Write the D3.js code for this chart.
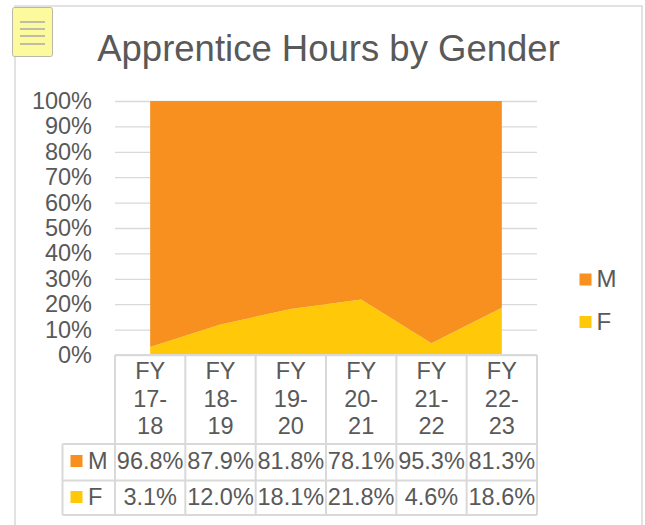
<!DOCTYPE html>
<html>
<head>
<meta charset="utf-8">
<script src="https://cdn.jsdelivr.net/npm/d3@7"></script>
<style>
body { margin: 0; background: #fff; }
text { font-family: "Liberation Sans", Arial, sans-serif; fill: #595959; }
</style>
</head>
<body>
<script>
// data
var categories = ["FY 17-18", "FY 18-19", "FY 19-20", "FY 20-21", "FY 21-22", "FY 22-23"];
var seriesM = [96.8, 87.9, 81.8, 78.1, 95.3, 81.3];
var seriesF = [3.1, 12.0, 18.1, 21.8, 4.6, 18.6];
var yTicks = [0, 0.1, 0.2, 0.3, 0.4, 0.5, 0.6, 0.7, 0.8, 0.9, 1];

var colorM = "#f7901e";
var colorF = "#ffc90a";
var lineCol = "#d9d9d9";

var svgW = 645, svgH = 525;
// plot box (note: "top" is taken by window.top)
var pLeft = 115, pRight = 537, pTop = 101, pBottom = 355;

var svg = d3.select("body").append("svg")
    .attr("width", svgW)
    .attr("height", svgH);

// chart border
svg.append("rect")
    .attr("x", 15).attr("y", 6)
    .attr("width", 627).attr("height", 540)
    .attr("fill", "none")
    .attr("stroke", lineCol)
    .attr("stroke-width", 1.5);

// little note icon top left
var icon = svg.append("g");
icon.append("rect")
    .attr("x", 12.5).attr("y", 7.5)
    .attr("width", 40).attr("height", 49)
    .attr("rx", 2)
    .attr("fill", "#fdfa9e")
    .attr("stroke", "#b8b8a8");
[22, 29, 36, 44].forEach(function(y) {
    icon.append("line")
        .attr("x1", 20).attr("x2", 45)
        .attr("y1", y).attr("y2", y)
        .attr("stroke", "#a8a8a8")
        .attr("stroke-width", 1.5);
});

// title
svg.append("text")
    .attr("x", 328.5).attr("y", 61)
    .attr("text-anchor", "middle")
    .style("font-size", "36.5px")
    .text("Apprentice Hours by Gender");

// scales
var xScale = d3.scaleBand().domain(categories).range([pLeft, pRight]).paddingInner(0).paddingOuter(0);
var yScale = d3.scaleLinear().domain([0, 1]).range([pBottom, pTop]);
var bw = xScale.bandwidth();

// y axis + gridlines
var yAxis = d3.axisLeft(yScale)
    .tickValues(yTicks)
    .tickSize(-(pRight - pLeft))
    .tickPadding(23)
    .tickFormat(d3.format(".0%"));

var yAxisGroup = svg.append("g")
    .attr("transform", "translate(" + pLeft + ",0)")
    .call(yAxis);
yAxisGroup.select(".domain").remove();
yAxisGroup.selectAll(".tick line").attr("stroke", lineCol).attr("stroke-width", 1.3);
yAxisGroup.selectAll(".tick text")
    .style("font-size", "23.5px")
    .attr("fill", "#595959")
    .attr("font-family", "Liberation Sans, Arial, sans-serif");

// stacked 100% area
var rows = categories.map(function(c, i) {
    return {cat: c, F: seriesF[i], M: seriesM[i]};
});
var stack = d3.stack().keys(["F", "M"]).offset(d3.stackOffsetExpand);
var layers = stack(rows);

var area = d3.area()
    .x(function(d) { return xScale(d.data.cat) + bw / 2; })
    .y0(function(d) { return yScale(d[0]); })
    .y1(function(d) { return yScale(d[1]); });

svg.selectAll(".layer")
    .data(layers)
    .enter()
    .append("path")
    .attr("class", "layer")
    .attr("d", area)
    .attr("fill", function(d) { return d.key == "M" ? colorM : colorF; });

// data table under the chart
var tLeft = 62.5, rowM = 444, rowF = 480.5, tBottom = 515;
var table = svg.append("g")
    .attr("stroke", lineCol)
    .attr("stroke-width", 2);

table.append("line").attr("x1", pLeft).attr("x2", pRight).attr("y1", pBottom).attr("y2", pBottom);
[rowM, rowF, tBottom].forEach(function(y) {
    table.append("line").attr("x1", tLeft).attr("x2", pRight).attr("y1", y).attr("y2", y);
});
table.append("line").attr("x1", tLeft).attr("x2", tLeft).attr("y1", rowM).attr("y2", tBottom);
categories.forEach(function(c, i) {
    var x = xScale(c);
    table.append("line").attr("x1", x).attr("x2", x).attr("y1", pBottom).attr("y2", tBottom);
});
table.append("line").attr("x1", pRight).attr("x2", pRight).attr("y1", pBottom).attr("y2", tBottom);

// category headers, wrapped like "FY / 17- / 18"
categories.forEach(function(c) {
    var parts = c.split(" ");
    var yrs = parts[1].split("-");
    var lines = [parts[0], yrs[0] + "-", yrs[1]];
    lines.forEach(function(t, j) {
        svg.append("text")
            .attr("x", xScale(c) + bw / 2)
            .attr("y", 379 + j * 27.5)
            .attr("text-anchor", "middle")
            .style("font-size", "23.5px")
            .text(t);
    });
});

// value rows
var fmt = function(v) { return v.toFixed(1) + "%"; };
var tableRows = [
    {name: "M", vals: seriesM, color: colorM, base: 469},
    {name: "F", vals: seriesF, color: colorF, base: 505}
];
tableRows.forEach(function(r) {
    svg.append("rect")
        .attr("x", 70.5).attr("y", r.base - 14)
        .attr("width", 12).attr("height", 12)
        .attr("fill", r.color);
    svg.append("text")
        .attr("x", 88).attr("y", r.base)
        .style("font-size", "23.5px")
        .text(r.name);
    r.vals.forEach(function(v, i) {
        svg.append("text")
            .attr("x", xScale(categories[i]) + bw / 2)
            .attr("y", r.base)
            .attr("text-anchor", "middle")
            .style("font-size", "23.5px")
            .text(fmt(v));
    });
});

// legend on the right
var legend = [{name: "M", color: colorM, y: 273.5}, {name: "F", color: colorF, y: 316}];
legend.forEach(function(l) {
    svg.append("rect")
        .attr("x", 579.5).attr("y", l.y)
        .attr("width", 12).attr("height", 12)
        .attr("fill", l.color);
    svg.append("text")
        .attr("x", 596.5).attr("y", l.y + 13.5)
        .style("font-size", "24px")
        .text(l.name);
});
</script>
</body>
</html>
